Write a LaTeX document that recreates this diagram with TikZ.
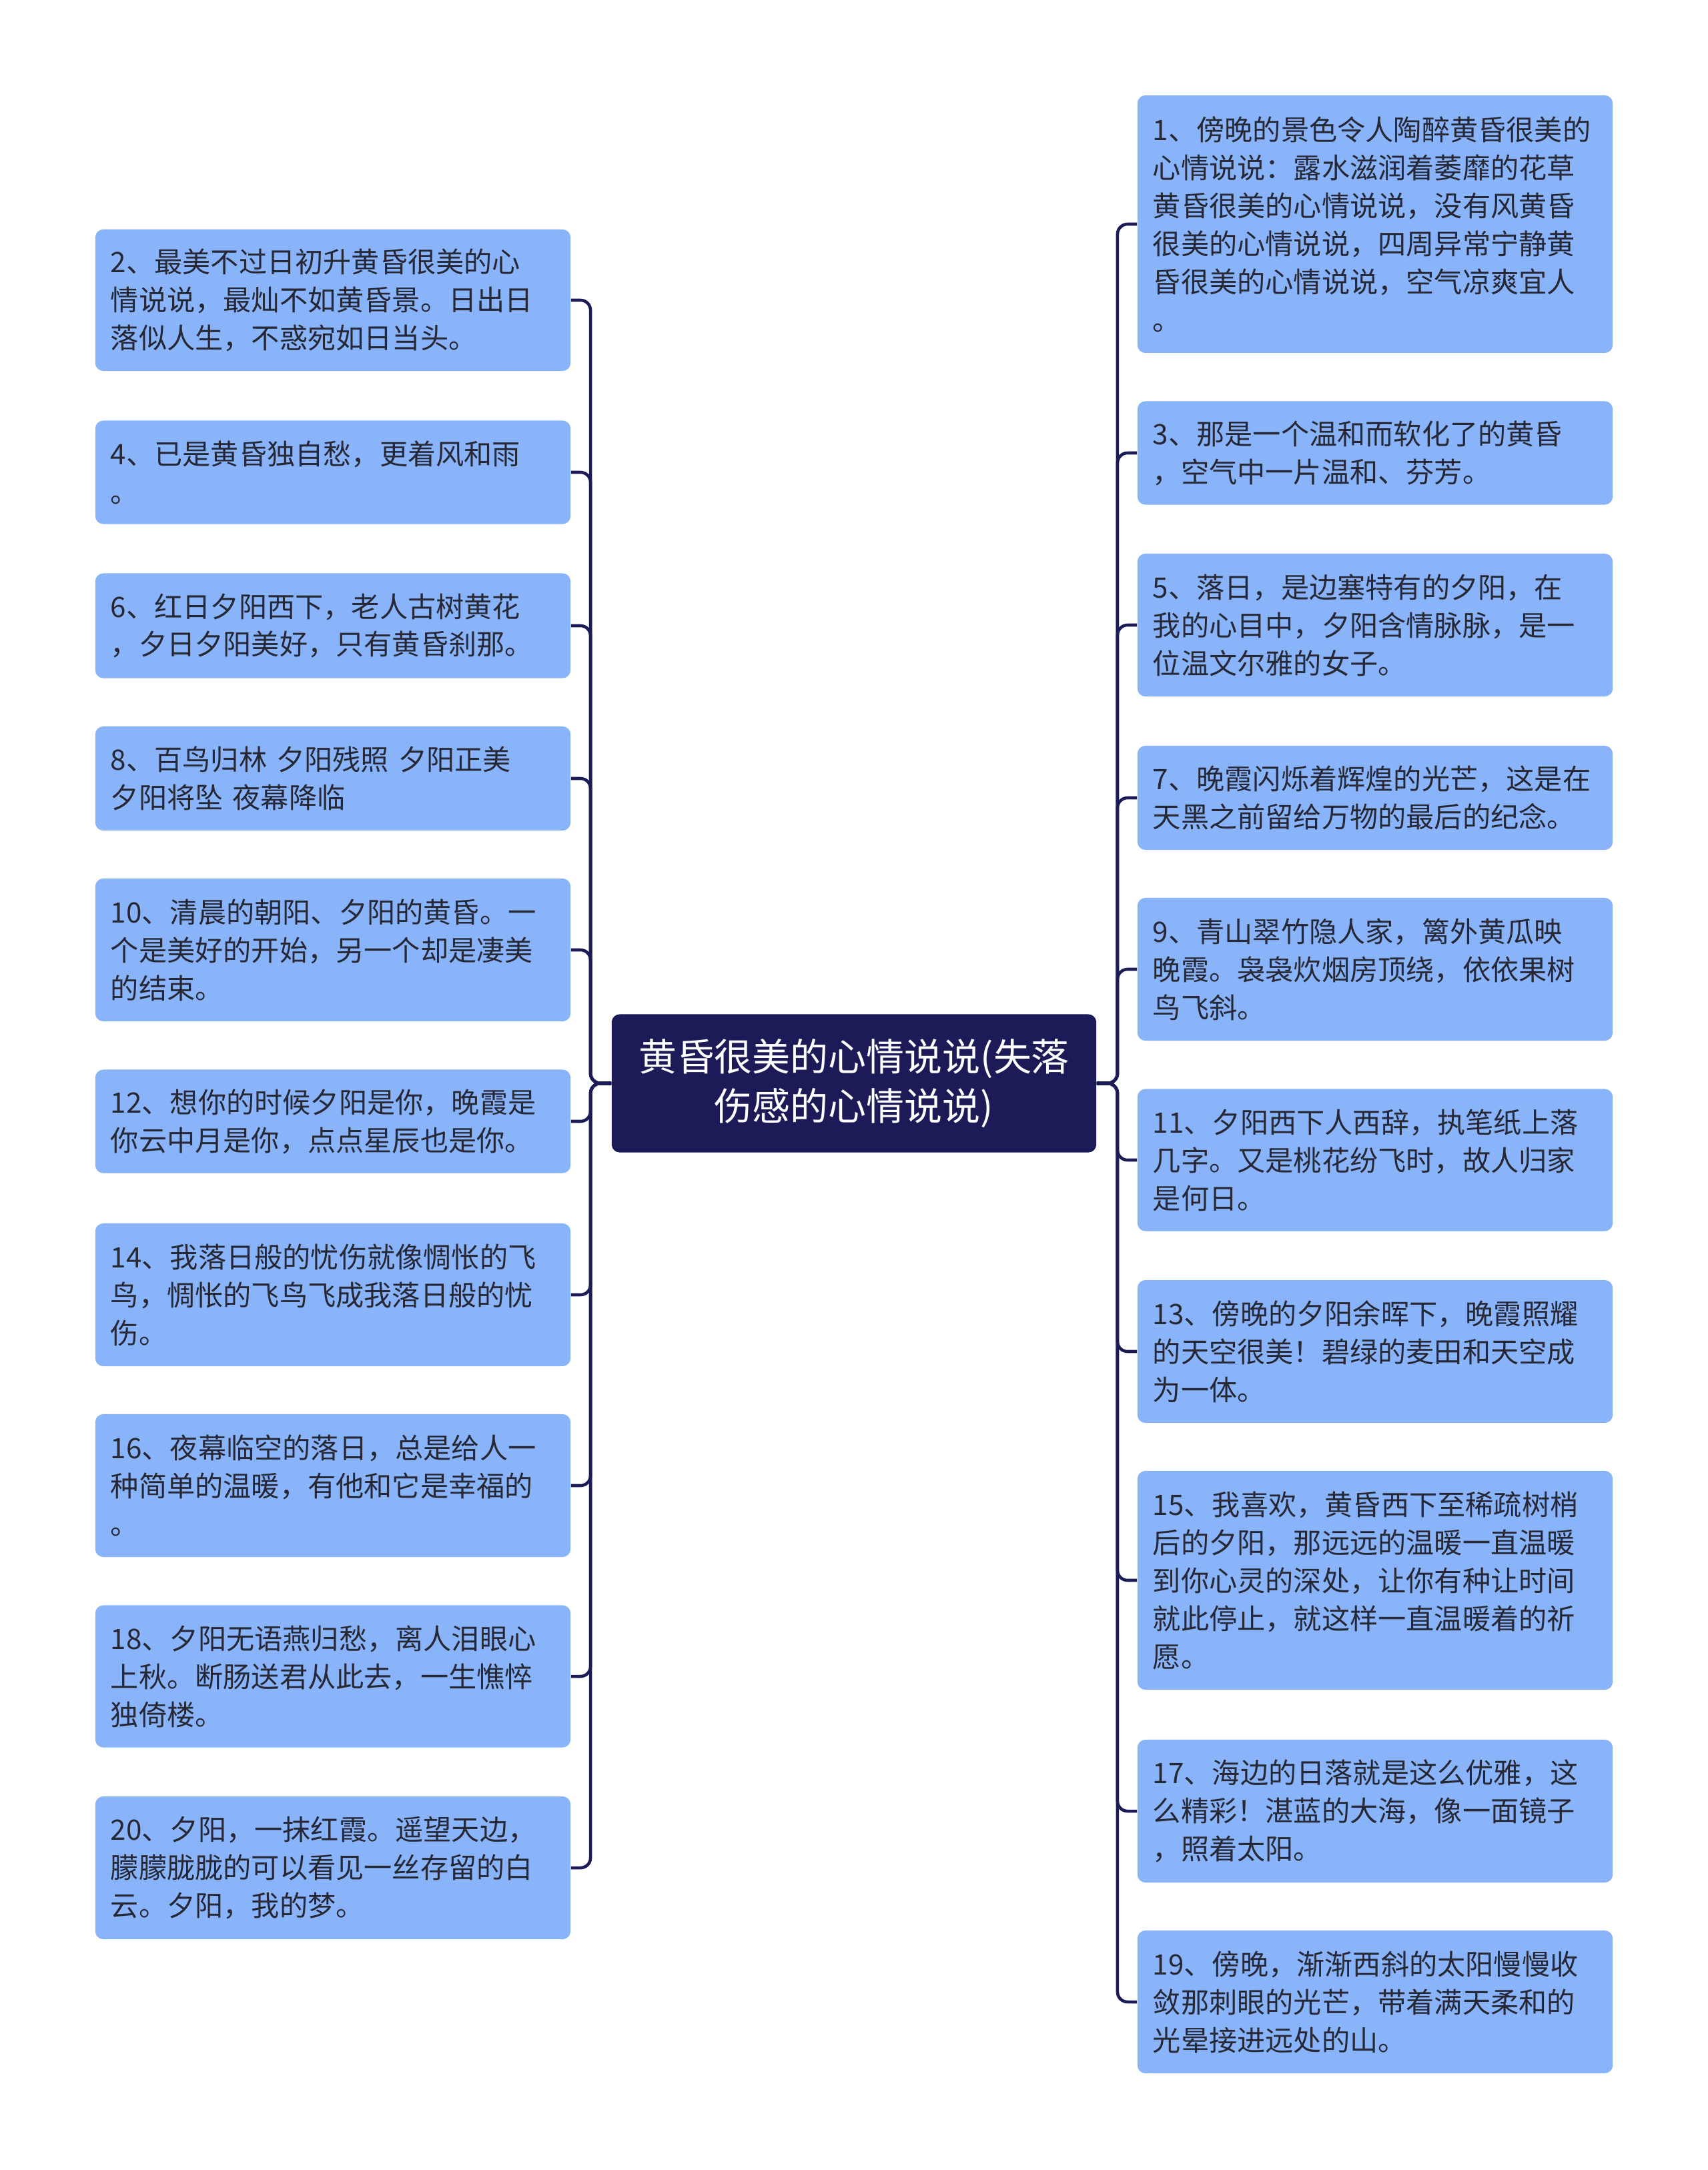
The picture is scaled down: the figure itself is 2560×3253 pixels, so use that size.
\documentclass[tikz,border=0pt]{standalone}
\usepackage{fontspec}
\setmainfont{Noto Sans CJK SC}
\definecolor{boxblue}{HTML}{8AB4FA}
\definecolor{inkgrey}{HTML}{262835}
\definecolor{linknavy}{HTML}{1C1B57}
\begin{document}
\begin{tikzpicture}
  [x=0.01cm,y=-0.01cm,every node/.style={rounded corners=0.12cm}]
  \tikzstyle{idea} = [fill=boxblue,text=inkgrey,text width=6.66cm,inner xsep=0.23cm,inner ysep=0pt,align=left,font=\fontsize{12}{16.2}\selectfont]
  \tikzstyle{root} = [fill=linknavy,text=white,text width=6.9cm,minimum width=7.26cm,minimum height=2.07cm,inner sep=0pt,align=center,font=\fontsize{16.2}{21.3}\selectfont]
  \tikzstyle{link} = [draw=linknavy,line width=1.3pt,rounded corners=0.15cm]
  \fill[white] (0,0) rectangle (2560,3253);
  \useasboundingbox (0,0) rectangle (2560,3253);
  \node[root] (root) at (1280,1624) {黄昏很美的心情说说(失落\\伤感的心情说说)};
  % left side
  \node[idea,minimum height=2.12cm] (l2) at (499,450) {2、最美不过日初升黄昏很美的心\\情说说，最灿不如黄昏景。日出日\\落似人生，不惑宛如日当头。};
  \node[idea,minimum height=1.55cm] (l4) at (499,708) {4、已是黄昏独自愁，更着风和雨\\。};
  \node[idea,minimum height=1.57cm] (l6) at (499,938) {6、红日夕阳西下，老人古树黄花\\，夕日夕阳美好，只有黄昏刹那。};
  \node[idea,minimum height=1.56cm] (l8) at (499,1167) {8、百鸟归林 夕阳残照 夕阳正美\\夕阳将坠 夜幕降临};
  \node[idea,minimum height=2.14cm] (l10) at (499,1424) {10、清晨的朝阳、夕阳的黄昏。一\\个是美好的开始，另一个却是凄美\\的结束。};
  \node[idea,minimum height=1.55cm] (l12) at (499,1681) {12、想你的时候夕阳是你，晚霞是\\你云中月是你，点点星辰也是你。};
  \node[idea,minimum height=2.14cm] (l14) at (499,1941) {14、我落日般的忧伤就像惆怅的飞\\鸟，惆怅的飞鸟飞成我落日般的忧\\伤。};
  \node[idea,minimum height=2.14cm] (l16) at (499,2227) {16、夜幕临空的落日，总是给人一\\种简单的温暖，有他和它是幸福的\\。};
  \node[idea,minimum height=2.13cm] (l18) at (499,2513) {18、夕阳无语燕归愁，离人泪眼心\\上秋。断肠送君从此去，一生憔悴\\独倚楼。};
  \node[idea,minimum height=2.14cm] (l20) at (499,2800) {20、夕阳，一抹红霞。遥望天边，\\朦朦胧胧的可以看见一丝存留的白\\云。夕阳，我的梦。};
  % right side
  \node[idea,minimum height=3.86cm] (r1) at (2061,336) {1、傍晚的景色令人陶醉黄昏很美的\\心情说说：露水滋润着萎靡的花草\\黄昏很美的心情说说，没有风黄昏\\很美的心情说说，四周异常宁静黄\\昏很美的心情说说，空气凉爽宜人\\。};
  \node[idea,minimum height=1.55cm] (r3) at (2061,679) {3、那是一个温和而软化了的黄昏\\，空气中一片温和、芬芳。};
  \node[idea,minimum height=2.14cm] (r5) at (2061,937) {5、落日，是边塞特有的夕阳，在\\我的心目中，夕阳含情脉脉，是一\\位温文尔雅的女子。};
  \node[idea,minimum height=1.56cm] (r7) at (2061,1196) {7、晚霞闪烁着辉煌的光芒，这是在\\天黑之前留给万物的最后的纪念。};
  \node[idea,minimum height=2.14cm] (r9) at (2061,1453) {9、青山翠竹隐人家，篱外黄瓜映\\晚霞。袅袅炊烟房顶绕，依依果树\\鸟飞斜。};
  \node[idea,minimum height=2.13cm] (r11) at (2061,1739) {11、夕阳西下人西辞，执笔纸上落\\几字。又是桃花纷飞时，故人归家\\是何日。};
  \node[idea,minimum height=2.14cm] (r13) at (2061,2026) {13、傍晚的夕阳余晖下，晚霞照耀\\的天空很美！碧绿的麦田和天空成\\为一体。};
  \node[idea,minimum height=3.28cm] (r15) at (2061,2369) {15、我喜欢，黄昏西下至稀疏树梢\\后的夕阳，那远远的温暖一直温暖\\到你心灵的深处，让你有种让时间\\就此停止，就这样一直温暖着的祈\\愿。};
  \node[idea,minimum height=2.14cm] (r17) at (2061,2715) {17、海边的日落就是这么优雅，这\\么精彩！湛蓝的大海，像一面镜子\\，照着太阳。};
  \node[idea,minimum height=2.14cm] (r19) at (2061,3001) {19、傍晚，渐渐西斜的太阳慢慢收\\敛那刺眼的光芒，带着满天柔和的\\光晕接进远处的山。};
\foreach \dest in {l2,l4,l6,l8,l10,l12,l14,l16,l18,l20}
   \draw[link] (root.west) -- ++(-31,0) |- (\dest.east);
\foreach \dest in {r1,r3,r5,r7,r9,r11,r13,r15,r17,r19}
   \draw[link] (root.east) -- ++(31,0) |- (\dest.west);

\end{tikzpicture}
\end{document}
